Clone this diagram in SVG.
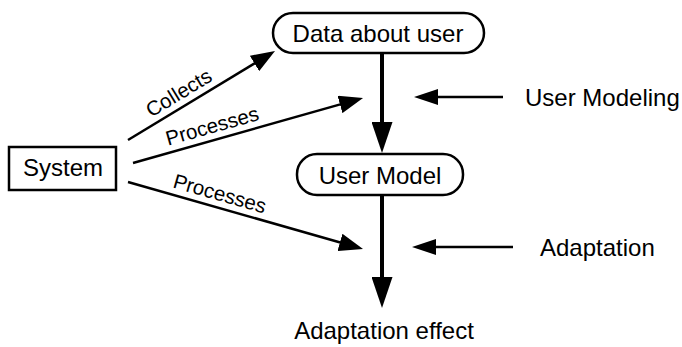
<svg xmlns="http://www.w3.org/2000/svg" width="682" height="347" viewBox="0 0 682 347">
<style>
text{font-family:"Liberation Sans",Arial,sans-serif;fill:#000}
.big{font-size:24px}
.lbl{font-size:20.5px}
.node{fill:#fff;stroke:#000;stroke-width:2.5}
.thick{stroke:#000;stroke-width:4;fill:none}
.thin{stroke:#000;stroke-width:2.5;fill:none}
</style>
<defs>
<marker id="hBig" markerUnits="userSpaceOnUse" markerWidth="31" markerHeight="21" refX="6" refY="10.5" orient="auto" viewBox="0 0 31 21">
<path d="M0,0 L31,10.5 L0,21 z" fill="#000"/>
</marker>
<marker id="hMed" markerUnits="userSpaceOnUse" markerWidth="24" markerHeight="18" refX="4" refY="9" orient="auto" viewBox="0 0 24 18">
<path d="M0,0 L24,9 L0,18 z" fill="#000"/>
</marker>
<marker id="hSmall" markerUnits="userSpaceOnUse" markerWidth="24" markerHeight="16" refX="4" refY="8" orient="auto" viewBox="0 0 24 16">
<path d="M0,0 L24,8 L0,16 z" fill="#000"/>
</marker>
</defs>
<g id="connectors">
<line class="thin" x1="128" y1="140" x2="257.9" y2="61.4" marker-end="url(#hMed)"/>
<line class="thin" x1="133" y1="163" x2="343.8" y2="103.4" marker-end="url(#hMed)"/>
<line class="thin" x1="128" y1="182" x2="343.8" y2="243.5" marker-end="url(#hMed)"/>
<line class="thick" x1="382" y1="53" x2="382" y2="128" marker-end="url(#hBig)"/>
<line class="thick" x1="382" y1="195" x2="382" y2="283" marker-end="url(#hBig)"/>
<line class="thin" x1="503" y1="97" x2="434" y2="97" marker-end="url(#hSmall)"/>
<line class="thin" x1="513" y1="247" x2="432" y2="247" marker-end="url(#hSmall)"/>
<text class="lbl" text-anchor="middle" transform="translate(186,104.9) rotate(-31.2)" y="-7">Collects</text>
<text class="lbl" text-anchor="middle" transform="translate(216,139.5) rotate(-15.8)" y="-7">Processes</text>
<text class="lbl" text-anchor="middle" transform="translate(216,207.1) rotate(15.9)" y="-7">Processes</text>
</g>
<g id="system">
<rect class="node" x="9" y="147" width="107" height="43" stroke-width="2"/>
<text class="big" x="63" y="176" text-anchor="middle">System</text>
</g>
<g id="data">
<rect class="node" x="273" y="13" width="211" height="40" rx="20"/>
<text class="big" x="378" y="42" text-anchor="middle">Data about user</text>
</g>
<g id="usermodel">
<rect class="node" x="297" y="154" width="166" height="41" rx="20"/>
<text class="big" x="380" y="184" text-anchor="middle">User Model</text>
</g>
<g id="usermodeling">
<text class="big" x="525" y="106">User Modeling</text>
</g>
<g id="adaptation">
<text class="big" x="540" y="256">Adaptation</text>
</g>
<g id="effect">
<text class="big" x="384" y="339" text-anchor="middle">Adaptation effect</text>
</g>
</svg>
